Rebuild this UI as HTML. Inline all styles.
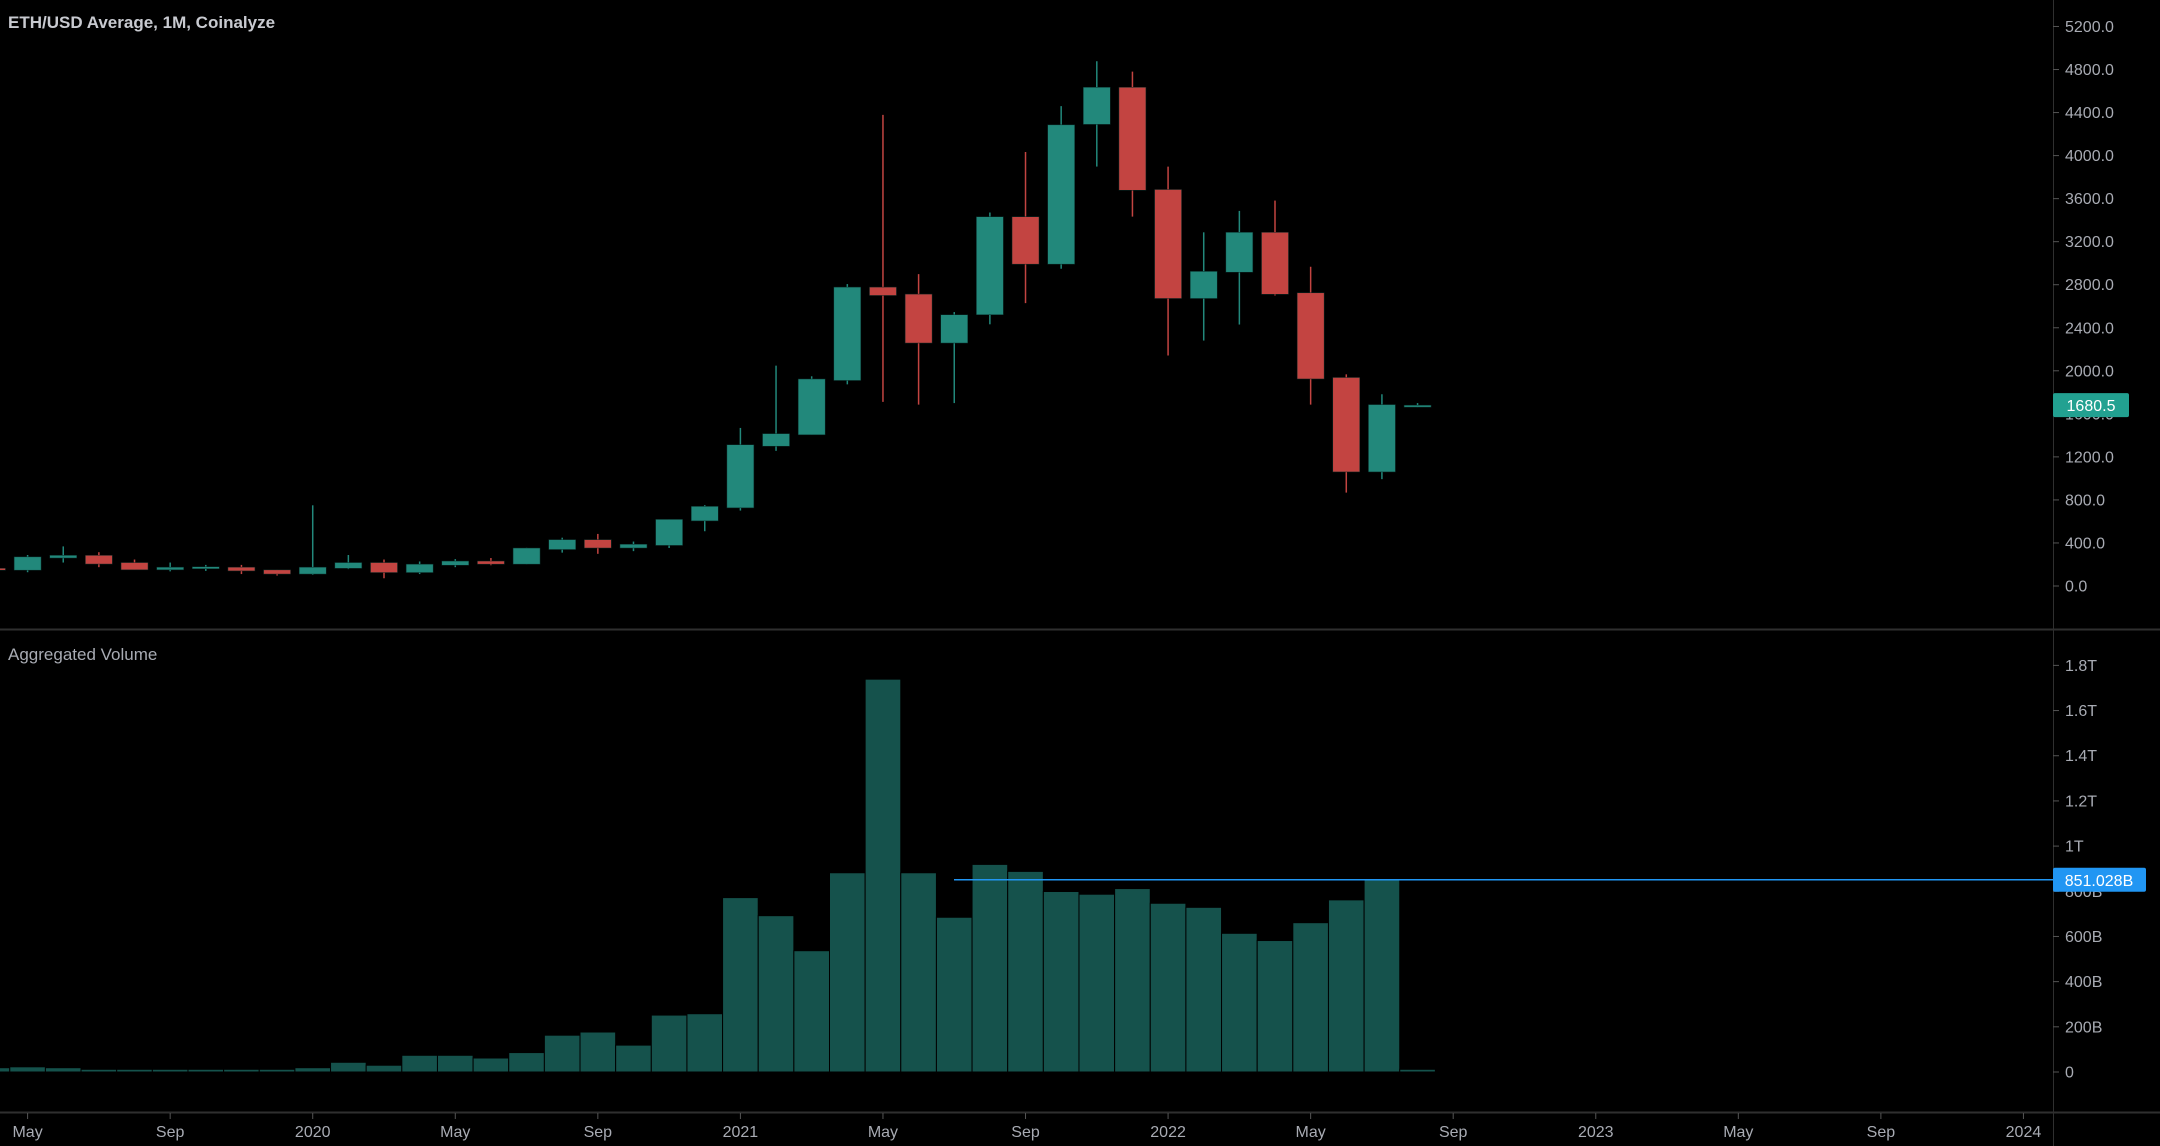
<!DOCTYPE html>
<html><head><meta charset="utf-8"><style>
html,body{margin:0;padding:0;background:#000;width:2160px;height:1146px;overflow:hidden}
svg{display:block}
text{font-family:"Liberation Sans",sans-serif}
</style></head><body>
<svg id="chart" width="2160" height="1146" viewBox="0 0 2160 1146" xmlns="http://www.w3.org/2000/svg">
<rect x="0" y="0" width="2160" height="1146" fill="#000"/>
<g id="grid">
<line x1="0" y1="629.5" x2="2160" y2="629.5" stroke="#2f2f2f" stroke-width="2"/>
<line x1="0" y1="1112.5" x2="2160" y2="1112.5" stroke="#2f2f2f" stroke-width="2"/>
<line x1="2053.5" y1="0" x2="2053.5" y2="1146" stroke="#2f2f2f" stroke-width="1"/>
</g>
<g id="candles"></g>
<g id="vols"></g>
<g id="axes"></g>
<text x="8" y="28" fill="#c8cad0" font-size="17" font-weight="bold">ETH/USD Average, 1M, Coinalyze</text>
<text x="8" y="660" fill="#a8abb3" font-size="17">Aggregated Volume</text>
</svg>
<script>
// month index 0 = May 2019 (index -1 = Apr 2019)
const startIndex = -1;
const opens  = [165,147,260,285,218,150,161,175,150,111,164,218,125,193,232,203,339,431,353,377,605,726,1299,1405,1910,2778,2713,2258,2521,3432,2991,4290,4635,3685,2672,2916,3287,2725,1938,1060,1675];
const highs  = [180,288,368,314,246,218,196,196,150,750,288,246,228,250,260,355,449,484,413,619,751,1469,2048,1949,2806,4378,2898,2546,3471,4033,4460,4877,4781,3898,3287,3486,3582,2967,1967,1782,1700];
const lows   = [140,128,218,175,150,136,140,111,97,104,157,72,111,175,193,200,310,299,324,353,509,701,1256,1405,1874,1711,1686,1700,2432,2629,2948,3898,3433,2142,2281,2430,2700,1686,868,993,1660];
const closes = [147,271,285,204,150,175,179,140,111,175,218,125,203,232,203,353,431,353,388,619,740,1313,1416,1924,2778,2700,2258,2521,3432,2991,4286,4635,3678,2672,2924,3287,2711,1924,1060,1686,1680.5];
const volumes = [19,23,19,12,12,12,12,12,12,19,43,30,74,74,62,86,163,177,119,252,258,772,692,537,882,1739,882,685,919,888,799,787,812,747,729,614,582,661,762,851.028,12];
const priceTicks = [0,400,800,1200,1600,2000,2400,2800,3200,3600,4000,4400,4800,5200];
const volTicks = [0,200,400,600,800,1000,1200,1400,1600,1800];
const volTickLabels = ["0","200B","400B","600B","800B","1T","1.2T","1.4T","1.6T","1.8T"];
const monthLabels = ["May","Sep","2020","May","Sep","2021","May","Sep","2022","May","Sep","2023","May","Sep","2024"];
const lastPrice = 1680.5;
const lastVolume = 851.028;

const NS="http://www.w3.org/2000/svg";
function xOf(i){return 27.6+i*35.64;}
function yPrice(v){return 586-v*0.10760;}
function yVol(v){return 1072-v*0.2259;}
function mk(tag,attrs,parent){const e=document.createElementNS(NS,tag);for(const k in attrs)e.setAttribute(k,attrs[k]);parent.appendChild(e);return e;}

const gC=document.getElementById('candles');
const gV=document.getElementById('vols');
const gA=document.getElementById('axes');
const UP="#22887b", DN="#c34441";

for(let j=0;j<opens.length;j++){
  const i=startIndex+j, x=xOf(i);
  const up=closes[j]>=opens[j], col=up?UP:DN;
  const w=mk('line',{x1:x,x2:x,y1:yPrice(highs[j]),y2:yPrice(lows[j]),stroke:col,'stroke-width':1.5},gC);
  
  
  const t=Math.min(yPrice(opens[j]),yPrice(closes[j]));
  const h=Math.max(2,Math.abs(yPrice(opens[j])-yPrice(closes[j])));
  const b=mk('rect',{x:x-13.5,y:t,width:27,height:h,fill:col,stroke:'#0a2a26','stroke-width':0.5},gC);
  
  
}
for(let j=0;j<volumes.length;j++){
  const i=startIndex+j, x=xOf(i);
  const y=yVol(volumes[j]);
  const r=mk('rect',{x:x-17.82,y:y,width:35.64,height:1072-y,fill:'#15524c',stroke:'#000','stroke-width':1},gV);
  
  
}
// last volume line
const lv=mk('line',{x1:954,x2:2053,y1:yVol(lastVolume),y2:yVol(lastVolume),stroke:'#2196f3','stroke-width':1.5},gV);



priceTicks.forEach(v=>{
  const y=yPrice(v);
  const tk=mk('line',{x1:2053,x2:2059,y1:y,y2:y,stroke:'#555'},gA);
  
  
  const t=mk('text',{x:2065,y:y+5.5,fill:'#a8abb3','font-size':16},gA);
  t.textContent=v.toFixed(1);
  
  
});
volTicks.forEach((v,k)=>{
  const y=yVol(v);
  const tk=mk('line',{x1:2053,x2:2059,y1:y,y2:y,stroke:'#555'},gA);
  
  
  const t=mk('text',{x:2065,y:y+5.5,fill:'#a8abb3','font-size':16},gA);
  t.textContent=volTickLabels[k];
  
  
});
monthLabels.forEach((m,k)=>{
  const x=xOf(k*4);
  const tk=mk('line',{x1:x,x2:x,y1:1113,y2:1119,stroke:'#555'},gA);
  
  
  const t=mk('text',{x:x,y:1137,fill:'#a8abb3','font-size':16,'text-anchor':'middle'},gA);
  t.textContent=m;
  
  
});
// price badge
const py=yPrice(lastPrice);
const pb=mk('rect',{x:2053,y:py-12,width:76,height:24,rx:2,fill:'#22a191'},gA);


const pt=mk('text',{x:2091,y:py+6,fill:'#fff','font-size':16,'text-anchor':'middle'},gA);
pt.textContent=lastPrice.toFixed(1);


// volume badge
const vy=yVol(lastVolume);
const vb=mk('rect',{x:2053,y:vy-12,width:93,height:24,rx:2,fill:'#2196f3'},gA);


const vt=mk('text',{x:2099,y:vy+6,fill:'#fff','font-size':16,'text-anchor':'middle'},gA);
vt.textContent=lastVolume.toFixed(3)+"B";


</script>
</body></html>
